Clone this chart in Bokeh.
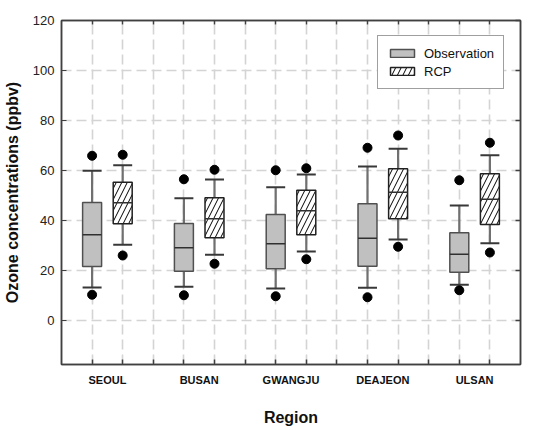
from bokeh.plotting import figure
from bokeh.models import Range1d, FixedTicker, LinearAxis, Legend, LegendItem, ColumnDataSource
from bokeh.embed import file_html
from bokeh.resources import INLINE

regions = ["SEOUL", "BUSAN", "GWANGJU", "DEAJEON", "ULSAN"]
series = ["Observation", "RCP"]

obs_low_whisker = [13.2, 13.5, 12.8, 13.1, 14.3]
obs_q1 = [21.6, 19.7, 20.7, 21.7, 19.3]
obs_median = [34.3, 29.1, 30.7, 32.9, 26.5]
obs_q3 = [47.2, 38.8, 42.4, 46.7, 35.1]
obs_high_whisker = [59.9, 48.9, 53.3, 61.6, 46.0]
obs_out_low = [10.3, 10.1, 9.7, 9.3, 12.1]
obs_out_high = [65.9, 56.5, 60.1, 69.1, 56.1]

rcp_low_whisker = [30.3, 26.3, 27.6, 32.4, 30.9]
rcp_q1 = [38.7, 33.1, 34.3, 40.7, 38.4]
rcp_median = [47.1, 40.7, 43.9, 51.3, 48.5]
rcp_q3 = [55.3, 49.1, 52.1, 60.7, 58.7]
rcp_high_whisker = [62.1, 56.4, 58.4, 68.7, 66.1]
rcp_out_low = [26.0, 22.7, 24.5, 29.5, 27.2]
rcp_out_high = [66.3, 60.3, 60.9, 74.0, 71.1]

y_ticks = [0, 20, 40, 60, 80, 100, 120]

FONT = "Liberation Sans"
AX = "#404040"
BW = 1.24  # box width in x units (x scale doubled)
n = len(regions)
centers = [6 * i + 3 for i in range(n)]
obs_x = [c - 1 for c in centers]
rcp_x = [c + 1 for c in centers]
grid_x = list(range(2, 6 * n, 2))

p = figure(width=533, height=430, output_backend="svg", toolbar_location=None,
           x_range=Range1d(0, 6 * n), y_range=Range1d(-17.6, 120),
           min_border_left=60, min_border_right=13, min_border_top=20, min_border_bottom=66)
p.background_fill_color = "white"
p.border_fill_color = "white"
p.outline_line_color = AX
p.outline_line_width = 1.5

# grids
p.xgrid.ticker = FixedTicker(ticks=grid_x)
p.ygrid.ticker = FixedTicker(ticks=y_ticks)
for g in (p.xgrid, p.ygrid):
    g.grid_line_color = "#d4d4d4"
    g.grid_line_width = 1.6
    g.grid_line_dash = "10 5"

# bottom axis
xa = p.xaxis[0]
xa.ticker = FixedTicker(ticks=centers, minor_ticks=grid_x)
xa.major_label_overrides = {c: r for c, r in zip(centers, regions)}
xa.major_tick_in = 0
xa.major_tick_out = 0
xa.minor_tick_in = 5
xa.minor_tick_out = 0
xa.minor_tick_line_color = AX
xa.minor_tick_line_width = 1.5
xa.axis_line_color = AX
xa.axis_line_width = 1.5
xa.major_label_text_font = FONT
xa.major_label_text_font_style = "bold"
xa.major_label_text_font_size = "11px"
xa.major_label_text_color = "#111111"
xa.major_label_standoff = 9
xa.axis_label = "Region"
xa.axis_label_text_font = FONT
xa.axis_label_text_font_style = "bold"
xa.axis_label_text_font_size = "16px"
xa.axis_label_text_color = "#111111"
xa.axis_label_standoff = 20

# left axis
ya = p.yaxis[0]
ya.ticker = FixedTicker(ticks=y_ticks)
ya.major_tick_in = 5
ya.major_tick_out = 0
ya.minor_tick_in = 0
ya.minor_tick_out = 0
ya.major_tick_line_color = AX
ya.axis_line_color = AX
ya.axis_line_width = 1.5
ya.major_label_text_font = FONT
ya.major_label_text_font_size = "13px"
ya.major_label_text_color = "#222222"
ya.major_label_standoff = 7
ya.axis_label = "Ozone concentrations (ppbv)"
ya.axis_label_text_font = FONT
ya.axis_label_text_font_style = "bold"
ya.axis_label_text_font_size = "16px"
ya.axis_label_text_color = "#111111"
ya.axis_label_standoff = 9

# right and top axes (inward ticks only, no labels)
ra = LinearAxis(ticker=FixedTicker(ticks=[], minor_ticks=y_ticks),
                major_tick_in=0, major_tick_out=0, minor_tick_in=5, minor_tick_out=0,
                axis_line_color=AX, axis_line_width=1.5, minor_tick_line_color=AX,
                minor_tick_line_width=1.5)
p.add_layout(ra, "right")
ta = LinearAxis(ticker=FixedTicker(ticks=[], minor_ticks=grid_x),
                major_tick_in=0, major_tick_out=0, minor_tick_in=4, minor_tick_out=0,
                axis_line_color=AX, axis_line_width=1.5, minor_tick_line_color=AX,
                minor_tick_line_width=1.5)
p.add_layout(ta, "above")

def draw(xs, lo, q1, med, q3, hi, olo, ohi, fill, hatch, edge):
    src = ColumnDataSource(dict(x=xs, lo=lo, q1=q1, med=med, q3=q3, hi=hi, olo=olo, ohi=ohi,
                                x0=[x - BW / 2 for x in xs], x1=[x + BW / 2 for x in xs]))
    p.segment(x0="x", y0="q3", x1="x", y1="hi", source=src, line_color="#707070", line_width=2.2)
    p.segment(x0="x", y0="lo", x1="x", y1="q1", source=src, line_color="#707070", line_width=2.2)
    kw = dict(hatch_pattern="/", hatch_scale=11, hatch_weight=1, hatch_color="black") if hatch else {}
    r = p.vbar(x="x", width=BW, bottom="q1", top="q3", source=src, fill_color=fill,
               line_color=edge, line_width=1.5, **kw)
    p.segment(x0="x0", y0="med", x1="x1", y1="med", source=src, line_color="#303030", line_width=1.5)
    p.segment(x0="x0", y0="hi", x1="x1", y1="hi", source=src, line_color="#383838", line_width=2)
    p.segment(x0="x0", y0="lo", x1="x1", y1="lo", source=src, line_color="#383838", line_width=2)
    p.scatter(x="x", y="olo", source=src, size=9, fill_color="black", line_color="black")
    p.scatter(x="x", y="ohi", source=src, size=9, fill_color="black", line_color="black")
    return r

r_obs = draw(obs_x, obs_low_whisker, obs_q1, obs_median, obs_q3, obs_high_whisker,
             obs_out_low, obs_out_high, "#c0c0c0", False, "#505050")
r_rcp = draw(rcp_x, rcp_low_whisker, rcp_q1, rcp_median, rcp_q3, rcp_high_whisker,
             rcp_out_low, rcp_out_high, "white", True, "#202020")

legend = Legend(items=[LegendItem(label=series[0], renderers=[r_obs]),
                       LegendItem(label=series[1], renderers=[r_rcp])],
                location=(316, 275), glyph_width=30, glyph_height=10, label_height=16,
                label_standoff=7, spacing=2, padding=9, margin=0,
                label_text_font=FONT, label_text_font_size="13px", label_text_color="#111111",
                border_line_color=AX, border_line_width=1.5, background_fill_alpha=1)
p.add_layout(legend, "center")

open("out.html", "w").write(file_html(p, INLINE))
